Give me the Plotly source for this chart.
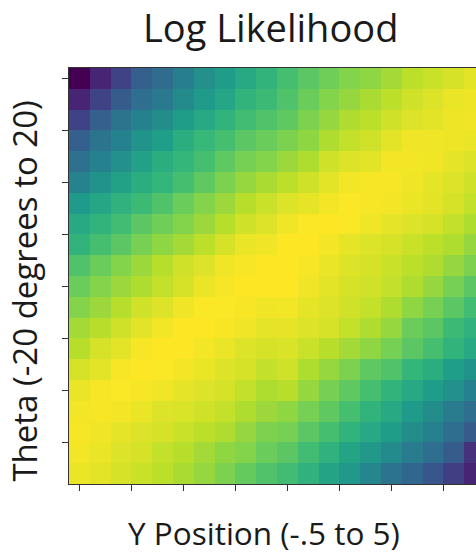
import plotly.graph_objects as go

# Column categories (Y position index) and row categories (theta index)
y_position_index = list(range(20))
theta_index = list(range(20))

# Normalised log-likelihood values, one list per theta row (top to bottom)
ll_row_00 = [0.00, 0.10, 0.20, 0.30, 0.35, 0.43, 0.50, 0.55, 0.60, 0.65, 0.70, 0.74, 0.78, 0.81, 0.83, 0.86, 0.90, 0.92, 0.94, 0.96]
ll_row_01 = [0.10, 0.20, 0.29, 0.36, 0.41, 0.48, 0.54, 0.59, 0.65, 0.68, 0.72, 0.77, 0.81, 0.84, 0.87, 0.90, 0.93, 0.95, 0.97, 0.975]
ll_row_02 = [0.20, 0.30, 0.38, 0.44, 0.49, 0.55, 0.60, 0.65, 0.69, 0.72, 0.75, 0.80, 0.84, 0.88, 0.90, 0.93, 0.95, 0.96, 0.975, 0.98]
ll_row_03 = [0.30, 0.38, 0.44, 0.51, 0.56, 0.62, 0.67, 0.70, 0.74, 0.77, 0.80, 0.83, 0.88, 0.91, 0.93, 0.96, 0.98, 0.98, 0.975, 0.97]
ll_row_04 = [0.37, 0.44, 0.50, 0.57, 0.62, 0.66, 0.70, 0.75, 0.79, 0.81, 0.85, 0.88, 0.93, 0.95, 0.96, 0.985, 0.985, 0.98, 0.965, 0.95]
ll_row_05 = [0.45, 0.51, 0.57, 0.62, 0.66, 0.70, 0.75, 0.80, 0.84, 0.87, 0.90, 0.93, 0.96, 0.985, 0.99, 0.99, 0.98, 0.965, 0.95, 0.93]
ll_row_06 = [0.54, 0.59, 0.64, 0.68, 0.72, 0.77, 0.81, 0.85, 0.89, 0.92, 0.95, 0.965, 0.985, 0.995, 0.99, 0.985, 0.97, 0.96, 0.94, 0.91]
ll_row_07 = [0.60, 0.65, 0.69, 0.74, 0.78, 0.81, 0.85, 0.89, 0.93, 0.95, 0.98, 0.995, 1.00, 0.995, 0.98, 0.965, 0.95, 0.94, 0.91, 0.88]
ll_row_08 = [0.65, 0.70, 0.74, 0.79, 0.83, 0.86, 0.90, 0.94, 0.97, 0.98, 1.00, 1.00, 0.985, 0.965, 0.95, 0.94, 0.92, 0.90, 0.88, 0.84]
ll_row_09 = [0.72, 0.77, 0.81, 0.85, 0.89, 0.93, 0.95, 0.98, 0.99, 1.00, 1.00, 0.99, 0.97, 0.95, 0.94, 0.92, 0.90, 0.88, 0.84, 0.80]
ll_row_10 = [0.77, 0.81, 0.85, 0.88, 0.91, 0.94, 0.97, 0.99, 1.00, 1.00, 1.00, 0.98, 0.96, 0.94, 0.93, 0.91, 0.88, 0.84, 0.79, 0.74]
ll_row_11 = [0.81, 0.85, 0.89, 0.93, 0.95, 0.98, 0.995, 0.995, 0.99, 0.98, 0.985, 0.965, 0.95, 0.93, 0.91, 0.88, 0.83, 0.79, 0.74, 0.69]
ll_row_12 = [0.86, 0.89, 0.93, 0.96, 0.985, 1.00, 1.00, 0.99, 0.98, 0.965, 0.965, 0.95, 0.94, 0.91, 0.88, 0.84, 0.77, 0.74, 0.68, 0.64]
ll_row_13 = [0.89, 0.94, 0.96, 0.99, 1.00, 1.00, 0.985, 0.97, 0.95, 0.94, 0.945, 0.92, 0.89, 0.86, 0.83, 0.79, 0.74, 0.70, 0.65, 0.60]
ll_row_14 = [0.94, 0.96, 0.99, 1.00, 0.995, 0.985, 0.97, 0.95, 0.94, 0.91, 0.93, 0.88, 0.84, 0.80, 0.75, 0.72, 0.66, 0.62, 0.56, 0.51]
ll_row_15 = [0.97, 0.99, 0.995, 0.99, 0.98, 0.965, 0.95, 0.94, 0.91, 0.88, 0.89, 0.84, 0.79, 0.75, 0.70, 0.65, 0.60, 0.55, 0.50, 0.44]
ll_row_16 = [0.985, 0.99, 0.985, 0.97, 0.95, 0.945, 0.93, 0.91, 0.88, 0.85, 0.83, 0.79, 0.75, 0.70, 0.65, 0.60, 0.54, 0.49, 0.42, 0.36]
ll_row_17 = [0.99, 0.98, 0.965, 0.95, 0.94, 0.92, 0.90, 0.88, 0.84, 0.80, 0.79, 0.74, 0.70, 0.65, 0.60, 0.55, 0.49, 0.44, 0.36, 0.29]
ll_row_18 = [0.985, 0.97, 0.95, 0.94, 0.91, 0.89, 0.86, 0.83, 0.81, 0.77, 0.74, 0.69, 0.64, 0.58, 0.53, 0.48, 0.42, 0.36, 0.29, 0.14]
ll_row_19 = [0.97, 0.96, 0.94, 0.92, 0.90, 0.87, 0.84, 0.80, 0.76, 0.72, 0.69, 0.64, 0.58, 0.53, 0.46, 0.38, 0.33, 0.27, 0.19, 0.10]

log_likelihood = [ll_row_00, ll_row_01, ll_row_02, ll_row_03, ll_row_04,
                  ll_row_05, ll_row_06, ll_row_07, ll_row_08, ll_row_09,
                  ll_row_10, ll_row_11, ll_row_12, ll_row_13, ll_row_14,
                  ll_row_15, ll_row_16, ll_row_17, ll_row_18, ll_row_19]

# Tick positions (unlabelled ticks)
x_tick_vals = [0, 2.5, 5, 7.5, 10, 12.5, 15, 17.5]
y_tick_vals = [0, 2.5, 5, 7.5, 10, 12.5, 15, 17.5]

title_text = "Log Likelihood"
x_label = "Y Position (-.5 to 5)"
y_label = "Theta (-20 degrees to 20)"

FONT = "Open Sans"
TXT = "#1a1a1a"
SPINE = "#333333"

fig = go.Figure(go.Heatmap(
    x=y_position_index, y=theta_index, z=log_likelihood,
    colorscale="Viridis", zmin=0, zmax=1, showscale=False,
))

fig.update_layout(
    width=476, height=554,
    margin=dict(l=69, r=0, t=68, b=70),
    paper_bgcolor="white", plot_bgcolor="white",
    showlegend=False,
    font=dict(family=FONT, color=TXT),
    annotations=[
        dict(text=title_text, xref="paper", yref="paper", x=0.494, y=1.099,
             xanchor="center", yanchor="middle", showarrow=False,
             font=dict(family=FONT, size=38, color=TXT)),
        dict(text=x_label, xref="paper", yref="paper", x=0.479, y=-0.1166,
             xanchor="center", yanchor="middle", showarrow=False,
             font=dict(family=FONT, size=31.5, color=TXT)),
        dict(text=y_label, xref="paper", yref="paper", x=-0.109, y=0.464,
             xanchor="center", yanchor="middle", showarrow=False, textangle=-90,
             font=dict(family=FONT, size=33, color=TXT)),
    ],
)

fig.update_xaxes(
    range=[-0.5, 19.07], showgrid=False, zeroline=False,
    showline=True, mirror=True, linecolor=SPINE, linewidth=1.2,
    ticks="outside", ticklen=6, tickwidth=1, tickcolor=SPINE,
    tickmode="array", tickvals=x_tick_vals, showticklabels=False,
)
fig.update_yaxes(
    range=[19.5, -0.5], showgrid=False, zeroline=False,
    showline=True, mirror=False, linecolor=SPINE, linewidth=1.2,
    ticks="outside", ticklen=6, tickwidth=1, tickcolor=SPINE,
    tickmode="array", tickvals=y_tick_vals, showticklabels=False,
)

fig.write_html(
    "out.html",
    config={"displayModeBar": False},
    post_script="document.body.style.margin='0';document.body.style.overflow='hidden';",
)
